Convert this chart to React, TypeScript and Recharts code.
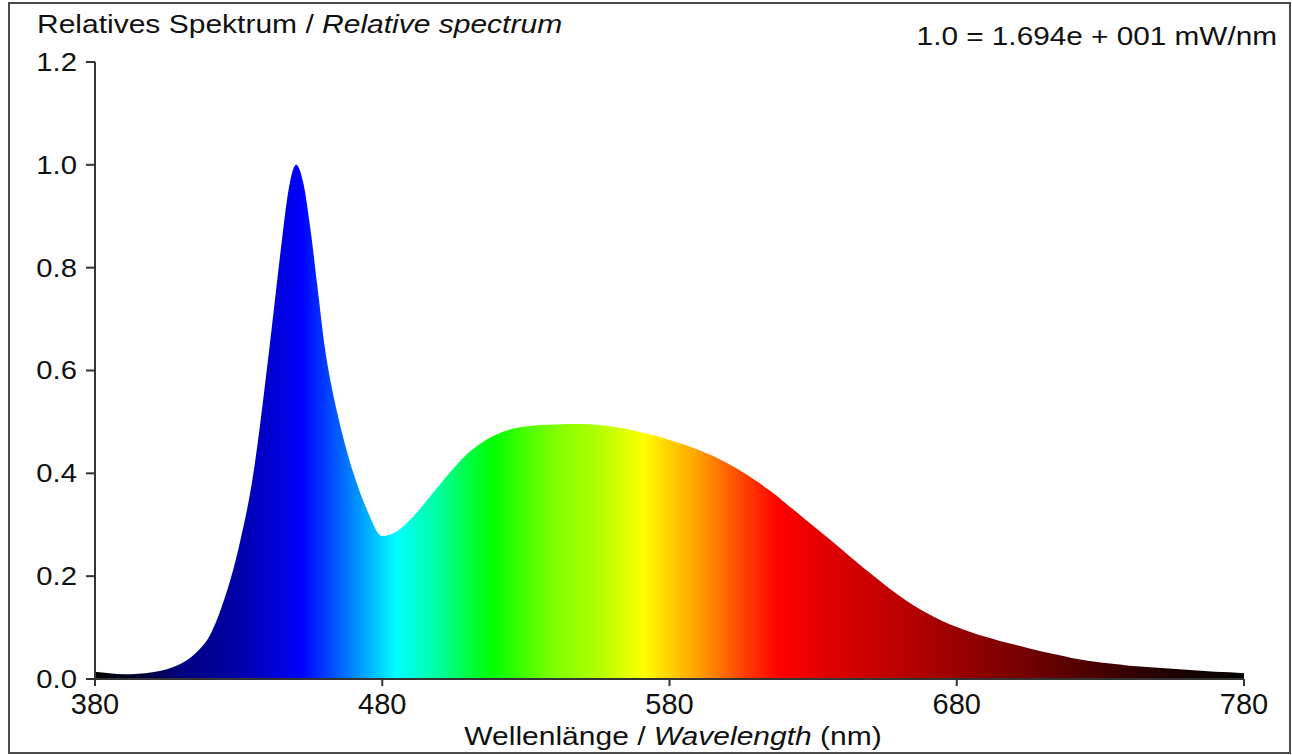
import React from "react";
import { AreaChart, Area, XAxis, YAxis } from "recharts";

// wavelength (nm) and relative intensity
const wavelengths = [
  380, 385, 390, 395, 400, 405, 410, 415, 420, 425, 430, 435, 440, 442.5, 445, 447.5,
  450, 452.5, 455, 457.5, 460, 462.5, 465, 470, 475, 480, 485, 490, 495, 500, 505, 510,
  515, 520, 525, 530, 535, 540, 545, 550, 555, 560, 565, 570, 575, 580, 585, 590, 595,
  600, 605, 610, 615, 620, 625, 630, 635, 640, 645, 650, 655, 660, 665, 670, 675, 680,
  685, 690, 695, 700, 705, 710, 715, 720, 725, 730, 735, 740, 745, 750, 755, 760, 765,
  770, 775, 780,
];

const intensities = [
  0.014, 0.011, 0.009, 0.01, 0.013, 0.019, 0.03, 0.05, 0.085, 0.155, 0.255, 0.395, 0.61,
  0.73, 0.85, 0.955, 1.0, 0.965, 0.875, 0.76, 0.645, 0.565, 0.502, 0.4, 0.325, 0.278,
  0.287, 0.311, 0.344, 0.378, 0.411, 0.44, 0.461, 0.476, 0.486, 0.491, 0.494, 0.495,
  0.496, 0.496, 0.494, 0.491, 0.486, 0.48, 0.473, 0.465, 0.456, 0.446, 0.434, 0.42,
  0.404, 0.386, 0.366, 0.344, 0.321, 0.298, 0.275, 0.252, 0.228, 0.205, 0.183, 0.162,
  0.143, 0.127, 0.113, 0.101, 0.091, 0.082, 0.074, 0.067, 0.06, 0.053, 0.047, 0.041,
  0.036, 0.032, 0.029, 0.026, 0.024, 0.022, 0.02, 0.018, 0.016, 0.014, 0.013, 0.011,
];

const xTicks = [380, 480, 580, 680, 780];
const yTicks = [0, 0.2, 0.4, 0.6, 0.8, 1.0, 1.2];

// spectral colours along the x range (wavelength, colour)
const spectrumStops: [number, string][] = [
  [380, "#000000"],
  [395, "#000030"],
  [410, "#000080"],
  [430, "#0000a8"],
  [445, "#0000e0"],
  [452, "#0000ff"],
  [465, "#0060ff"],
  [476, "#00b8ff"],
  [485, "#00ffff"],
  [500, "#00ff9a"],
  [518, "#00ff00"],
  [540, "#80ff00"],
  [556, "#b4ff00"],
  [571, "#ffff00"],
  [590, "#ffa000"],
  [606, "#ff4000"],
  [618, "#ff0000"],
  [635, "#e00000"],
  [657, "#c00000"],
  [686, "#900000"],
  [715, "#600000"],
  [743, "#300000"],
  [780, "#000000"],
];

const data = wavelengths.map((wl, i) => ({ wl, v: intensities[i] }));

const FONT = "'Liberation Sans', Arial, sans-serif";
const AXIS = "#333";
const INK = "#111";

// the reference text is stretched sideways a bit
const stretch = (x: number, y: number, sx: number) =>
  `translate(${x},${y}) scale(${sx},1) translate(${-x},${-y})`;

const YTick = (props: any) => {
  const { x, y, payload } = props;
  return (
    <text
      x={x}
      y={y}
      dy="0.36em"
      textAnchor="end"
      fontSize={25}
      fontFamily={FONT}
      fill={INK}
      transform={stretch(x, y, 1.17)}
    >
      {Number(payload.value).toFixed(1)}
    </text>
  );
};

const XTick = (props: any) => {
  const { x, y, payload } = props;
  return (
    <text x={x} y={y} dy="0.72em" textAnchor="middle" fontSize={29} fontFamily={FONT} fill={INK}>
      {payload.value}
    </text>
  );
};

export default function App() {
  return (
    <div style={{ position: "absolute", left: 0, top: 0, width: 1292, height: 755, background: "#fff", fontFamily: FONT }}>
      <AreaChart
        width={1292}
        height={755}
        data={data}
        margin={{ top: 62, right: 48, left: 15, bottom: 46 }}
      >
        <defs>
          <linearGradient id="spec" x1="0" y1="0" x2="1" y2="0">
            {spectrumStops.map(([wl, c]) => (
              <stop key={wl} offset={(wl - 380) / 400} stopColor={c} />
            ))}
          </linearGradient>
        </defs>
        <XAxis
          dataKey="wl"
          type="number"
          domain={[380, 780]}
          ticks={xTicks}
          height={30}
          tickSize={7}
          tickMargin={7}
          stroke={AXIS}
          strokeWidth={2}
          tick={<XTick />}
        />
        <YAxis
          type="number"
          domain={[0, 1.2]}
          ticks={yTicks}
          width={80}
          tickSize={9}
          tickMargin={9}
          stroke={AXIS}
          strokeWidth={2}
          tick={<YTick />}
        />
        <Area
          type="monotone"
          dataKey="v"
          stroke="none"
          fill="url(#spec)"
          fillOpacity={1}
          dot={false}
          activeDot={false}
          isAnimationActive={false}
        />
      </AreaChart>
      <svg
        width={1292}
        height={755}
        style={{ position: "absolute", left: 0, top: 0, pointerEvents: "none" }}
      >
        <rect x={9} y={3} width={1281} height={750} fill="none" stroke="#4a4a4a" strokeWidth={2} />
        <text x={37} y={33} fontSize={25} fill={INK} fontFamily={FONT} transform={stretch(37, 33, 1.2)}>
          Relatives Spektrum / <tspan fontStyle="italic">Relative spectrum</tspan>
        </text>
        <text
          x={1277}
          y={45}
          fontSize={25}
          fill={INK}
          fontFamily={FONT}
          textAnchor="end"
          transform={stretch(1277, 45, 1.19)}
        >
          1.0 = 1.694e + 001 mW/nm
        </text>
        <text
          x={673}
          y={745}
          fontSize={25}
          fill={INK}
          fontFamily={FONT}
          textAnchor="middle"
          transform={stretch(673, 745, 1.2)}
        >
          Wellenlänge / <tspan fontStyle="italic">Wavelength</tspan> (nm)
        </text>
      </svg>
    </div>
  );
}
